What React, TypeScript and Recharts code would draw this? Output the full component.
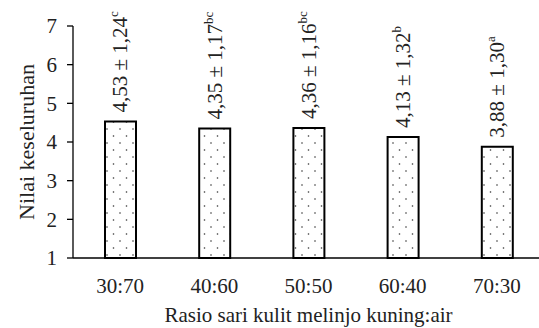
import React from "react";
import { BarChart, Bar, XAxis, YAxis, LabelList } from "recharts";

const categories = ["30:70", "40:60", "50:50", "60:40", "70:30"];
const means = [4.53, 4.35, 4.36, 4.13, 3.88];
const sds = [1.24, 1.17, 1.16, 1.32, 1.3];
const letters = ["c", "bc", "bc", "b", "a"];
const yTicks = [1, 2, 3, 4, 5, 6, 7];

const data = categories.map((name, i) => ({
  name,
  value: means[i],
  sd: sds[i],
  sig: letters[i],
}));

const fmt = (n: number) => n.toFixed(2).replace(".", ",");
const FONT = "Liberation Serif";

const BarLabel = (props: any) => {
  const { x, y, width, index } = props;
  const cx = x + width / 2;
  const y0 = y - 9;
  return (
    <text
      x={cx}
      y={y0}
      transform={`rotate(-90 ${cx} ${y0})`}
      dominantBaseline="central"
      style={{ fontFamily: FONT }}
      fontSize={21}
      fill="#222"
      textAnchor="start"
    >
      {`${fmt(means[index])} ± ${fmt(sds[index])}`}
      <tspan dy={-7} fontSize={13}>
        {letters[index]}
      </tspan>
    </text>
  );
};

const App: React.FC = () => {
  return (
    <div
      style={{
        position: "absolute",
        left: 0,
        top: 0,
        width: 539,
        height: 328,
        overflow: "hidden",
        background: "#fff",
        fontFamily: FONT,
      }}
    >
      <BarChart
        width={550}
        height={328}
        data={data}
        margin={{ top: 26, right: 6, left: 0, bottom: 0 }}
        barSize={31}
        style={{ fontFamily: FONT }}
      >
        <defs>
          <pattern id="dots" width={13} height={14} patternUnits="userSpaceOnUse">
            <rect width={13} height={14} fill="#fff" />
            <circle cx={3} cy={3} r={0.8} fill="#333" />
            <circle cx={9.5} cy={10} r={0.8} fill="#333" />
          </pattern>
        </defs>
        <XAxis
          dataKey="name"
          height={70}
          tickLine={false}
          axisLine={{ stroke: "#000", strokeWidth: 1.3 }}
          tickMargin={14}
          tick={{ fill: "#222", fontSize: 21, style: { fontFamily: FONT } }}
          label={{
            value: "Rasio sari kulit melinjo kuning:air",
            position: "insideBottom",
            offset: 6,
            fill: "#222",
            fontSize: 21,
            style: { fontFamily: FONT },
          }}
        />
        <YAxis
          width={73}
          domain={[1, 7]}
          ticks={yTicks}
          interval={0}
          tickSize={6}
          tickMargin={10}
          axisLine={{ stroke: "#000", strokeWidth: 1.3 }}
          tickLine={{ stroke: "#000", strokeWidth: 1.3 }}
          tick={{ fill: "#222", fontSize: 21, style: { fontFamily: FONT } }}
          label={(p: any) => {
            const vb = p.viewBox || {};
            const cy = (vb.y ?? 26) + (vb.height ?? 232) / 2;
            return (
              <text
                x={34}
                y={cy}
                transform={`rotate(-90 34 ${cy})`}
                textAnchor="middle"
                style={{ fontFamily: FONT }}
                fontSize={22}
                fill="#222"
              >
                Nilai keseluruhan
              </text>
            );
          }}
        />
        <Bar
          dataKey="value"
          fill="url(#dots)"
          stroke="#000"
          strokeWidth={2}
          isAnimationActive={false}
        >
          <LabelList dataKey="value" content={BarLabel} />
        </Bar>
      </BarChart>
    </div>
  );
};

export default App;
